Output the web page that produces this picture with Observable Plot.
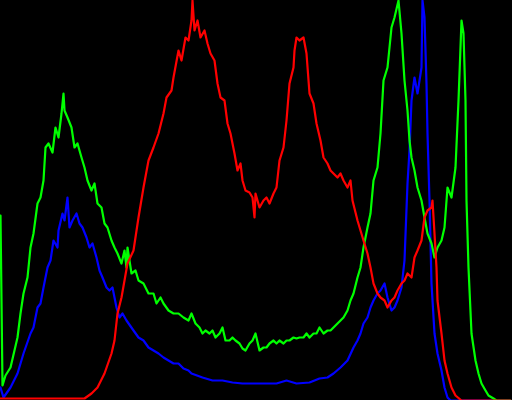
<!DOCTYPE html>
<html><head><meta charset="utf-8">
<script src="https://cdn.jsdelivr.net/npm/d3@7"></script>
<script src="https://cdn.jsdelivr.net/npm/@observablehq/plot@0.6"></script>
<style>html,body{margin:0;padding:0;background:#000;}</style>
</head><body><div id="chart"></div>
<script>
const blueBins = [0,1.5,5,8.5,11.5,15,16.5,18.5,20,21.5,23.5,25,26.5,28.5,29,31,32,33.5,34.5,36,38,39.5,41,43,44.5,46,48,49.5,51,53,54.5,56,58,59.5,61,63,66.5,69,71.5,74,76.5,79,81.5,84,86.5,89,91.5,94,95.5,101,106,111,116,121,127.5,138,143,148,154.5,159.5,163.5,166.5,170,173.5,176.5,178.5,180,181.5,183.5,185,186.5,188.5,190,192,193.5,195.5,197,198.5,200.5,202,203.5,204.5,205.5,207,208.5,210.5,211,212,213,213.5,214.5,215.5,217,218.5,220.5,222,223.5,225,255];
const blueVals = [13,3,13,27,47,67,73,93,97,113,133,140,160,153,170,187,180,203,173,180,187,177,173,163,153,157,143,130,123,113,110,113,93,83,87,80,70,63,60,53,50,47,43,40,37,37,32,30,27,23,20,20,18,17,17,17,20,17,18,22,23,27,33,40,53,60,67,77,83,93,100,107,110,117,103,90,93,100,113,140,217,250,300,323,307,333,400,383,317,267,200,117,67,47,30,13,3,0,0];
const greenBins = [0,1,2.5,5,8.5,10,11.5,13.5,15,16.5,18.5,20,21.5,22.5,24,26,27.5,29,30.5,31.5,32,33.5,35.5,37,38.5,40.5,42,43.5,45.5,47,48.5,50.5,52,53.5,55.5,57,58.5,60.5,62,63,63.5,65.5,67.5,69,71.5,74,76.5,78,80,81.5,84,86.5,89,91.5,94,95.5,97.5,99.5,101,102.5,104.5,106,107.5,109.5,111,112.5,114.5,116,117.5,119.5,121,122.5,124.5,126,127.5,129.5,131.5,133,134.5,136.5,138,139.5,141.5,143,144.5,146.5,148,149.5,151.5,153,154.5,156.5,158,159.5,161.5,163.5,165,166.5,168.5,170,171.5,173.5,175,176.5,178.5,180,181.5,183.5,185,186.5,188.5,190,191.5,193.5,195.5,197,199,200.5,202,203.5,204.5,205.5,207,208.5,210.5,212,213.5,215.5,217,218.5,220.5,222,223.5,225.5,227.5,229,230.5,231.5,232.5,233,234,235.5,237.5,239,240.5,242.5,244,246.5,248,255];
const greenVals = [185,15,25,33,63,87,107,123,153,167,197,203,220,253,257,248,273,263,287,307,290,283,273,253,257,243,233,220,210,217,197,193,177,173,160,153,147,137,150,133,153,127,130,120,117,107,107,97,103,97,90,87,87,83,80,87,77,73,67,70,67,70,63,67,73,60,60,63,60,57,52,50,57,60,67,50,53,53,57,60,57,60,57,60,60,63,62,63,63,67,63,67,67,73,67,70,70,73,77,80,83,90,100,107,123,133,153,173,187,220,233,267,320,333,373,383,400,367,320,290,260,243,230,213,200,183,167,157,143,153,160,173,213,203,233,300,380,367,300,200,133,67,40,27,17,10,5,2,0,0];
const redBins = [0,42,45.5,48.5,52,55.5,57,58.5,60.5,62,63.5,66.5,69,71.5,74,76.5,79,81.5,83,85.5,86.5,89,90.5,92.5,94,95.5,96,97,98.5,100,102,103.5,105,107,108.5,110,112,113.5,115,117,118.5,120,121,122.5,124.5,126,127,127.5,129.5,131.5,133,134.5,136.5,138,139.5,141.5,143,144.5,146.5,147,148,149.5,151.5,153,154.5,156.5,158,160,161.5,163.5,165,166.5,168.5,170,171.5,173.5,175,176,178.5,180,181.5,183.5,185,186.5,188.5,190,192,193.5,195.5,197,198.5,200.5,202,203.5,205.5,207,208.5,210.5,212,213.5,215.5,216,217,218,218.5,220.5,222,223.5,225.5,227.5,230.5,255];
const redVals = [2,2,7,13,27,47,60,87,103,120,137,150,183,213,240,253,267,287,303,310,323,350,340,363,360,380,400,370,380,363,370,357,347,340,317,303,300,277,267,247,230,237,220,210,208,203,183,207,193,200,203,197,207,213,240,253,280,317,333,350,363,360,363,347,307,297,277,260,243,237,230,227,223,227,220,213,220,200,180,170,160,147,133,117,107,103,100,93,100,103,110,117,120,127,123,143,150,160,183,190,193,200,167,133,100,67,40,27,13,5,0,0];

const mk = (bins, vals) => bins.map((b, i) => ({bin: b, count: vals[i]}));
const chart = Plot.plot({
  width: 512, height: 400,
  margin: 0,
  style: {background: "#000"},
  x: {domain: [0, 256], range: [0, 512], axis: null},
  y: {domain: [0, 400], range: [400, 0], axis: null},
  marks: [
    Plot.line(mk(blueBins, blueVals), {x: "bin", y: "count", stroke: "#0000ff", strokeWidth: 2.2}),
    Plot.line(mk(greenBins, greenVals), {x: "bin", y: "count", stroke: "#00ff00", strokeWidth: 2.2}),
    Plot.line(mk(redBins, redVals), {x: "bin", y: "count", stroke: "#ff0000", strokeWidth: 2.2})
  ]
});
document.getElementById("chart").appendChild(chart);
</script></body></html>
